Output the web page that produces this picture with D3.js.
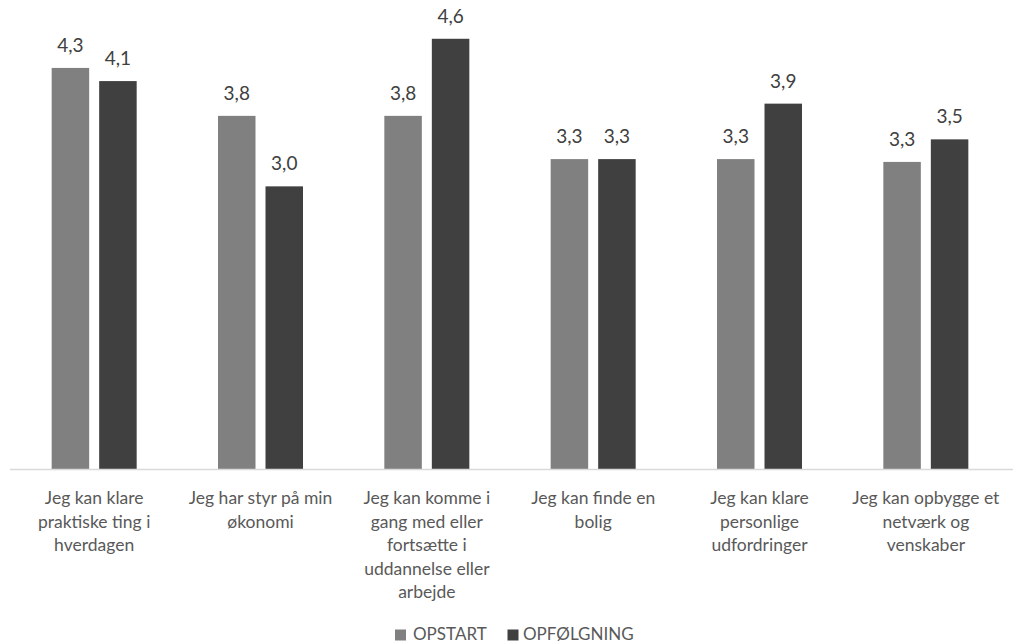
<!DOCTYPE html>
<html>
<head>
<meta charset="utf-8">
<script src="https://cdn.jsdelivr.net/npm/d3@7"></script>
<style>
  html, body { margin: 0; padding: 0; background: #ffffff; }
  svg { display: block; }
  text { font-family: Lato, "Open Sans", sans-serif; }
</style>
</head>
<body>
<svg id="chart" width="1013" height="644"></svg>
<script>
// ---- data ----
const categories = [
  "Jeg kan klare praktiske ting i hverdagen",
  "Jeg har styr på min økonomi",
  "Jeg kan komme i gang med eller fortsætte i uddannelse eller arbejde",
  "Jeg kan finde en bolig",
  "Jeg kan klare personlige udfordringer",
  "Jeg kan opbygge et netværk og venskaber"
];
const categoryLines = [
  ["Jeg kan klare", "praktiske ting i", "hverdagen"],
  ["Jeg har styr på min", "økonomi"],
  ["Jeg kan komme i", "gang med eller", "fortsætte i", "uddannelse eller", "arbejde"],
  ["Jeg kan finde en", "bolig"],
  ["Jeg kan klare", "personlige", "udfordringer"],
  ["Jeg kan opbygge et", "netværk og", "venskaber"]
];
const seriesNames = ["OPSTART", "OPFØLGNING"];
const opstart    = [4.27, 3.76, 3.76, 3.30, 3.30, 3.27];
const opfolgning = [4.13, 3.01, 4.58, 3.30, 3.89, 3.51];
const seriesColors = ["#808080", "#404040"];
const yDomain = [0, 5];

// ---- layout ----
const svg = d3.select("#chart");
const plotLeft = 11, plotRight = 1009, baseY = 469.3, topY = -0.7;

const x = d3.scaleBand().domain(categories).range([plotLeft, plotRight]).paddingInner(0).paddingOuter(0);
const xi = d3.scaleBand().domain(seriesNames).range([0, x.bandwidth()]).paddingInner(0.2105).paddingOuter(0.856);
const y = d3.scaleLinear().domain(yDomain).range([baseY, topY]);
const color = d3.scaleOrdinal().domain(seriesNames).range(seriesColors);

const rows = categories.map((c, i) => ({ cat: c, values: [
  { s: seriesNames[0], v: opstart[i] },
  { s: seriesNames[1], v: opfolgning[i] }
]}));

const fmt = v => d3.format(".1f")(v).replace(".", ",");

const groups = svg.append("g").selectAll("g").data(rows).join("g")
  .attr("transform", d => `translate(${x(d.cat)},0)`);

groups.selectAll("rect").data(d => d.values).join("rect")
  .attr("x", d => xi(d.s))
  .attr("width", xi.bandwidth())
  .attr("y", d => y(d.v))
  .attr("height", d => y(0) - y(d.v))
  .attr("fill", d => color(d.s));

groups.selectAll("text.val").data(d => d.values).join("text")
  .attr("class", "val")
  .attr("x", d => xi(d.s) + xi.bandwidth() / 2)
  .attr("y", d => y(d.v) - 16)
  .attr("text-anchor", "middle")
  .attr("font-size", 19)
  .attr("fill", "#404040")
  .text(d => fmt(d.v));

// axis line
svg.append("line")
  .attr("x1", 10).attr("x2", 1013)
  .attr("y1", baseY + 0.2).attr("y2", baseY + 0.2)
  .attr("stroke", "#d9d9d9").attr("stroke-width", 1.3);

// category labels
const labels = svg.append("g").selectAll("text").data(categories).join("text")
  .attr("text-anchor", "middle")
  .attr("font-size", 17.5)
  .attr("fill", "#595959")
  .attr("x", d => x(d) + x.bandwidth() / 2)
  .attr("y", 504);
labels.each(function(d, i) {
  d3.select(this).selectAll("tspan").data(categoryLines[i]).join("tspan")
    .attr("x", x(d) + x.bandwidth() / 2)
    .attr("dy", (t, j) => j === 0 ? 0 : 23.5)
    .text(t => t);
});

// legend
const legendItems = [
  { name: seriesNames[0], sx: 395, tx: 413 },
  { name: seriesNames[1], sx: 507.5, tx: 523 }
];
const lg = svg.append("g").selectAll("g").data(legendItems).join("g");
lg.append("rect")
  .attr("x", d => d.sx).attr("y", 629.5).attr("width", 11).attr("height", 11)
  .attr("fill", d => color(d.name));
lg.append("text")
  .attr("x", d => d.tx).attr("y", 640)
  .attr("font-size", 17)
  .attr("fill", "#595959")
  .text(d => d.name);
</script>
</body>
</html>
